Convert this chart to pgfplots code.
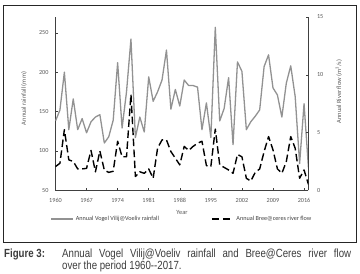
\documentclass[border=0pt]{standalone}
\usepackage{pgfplots}
\pgfplotsset{compat=1.18}
\usepackage{pgfplotstable}
\usepackage{fontspec}
\setmainfont{Carlito}
\newfontfamily\capfont[FakeStretch=0.82]{Liberation Sans}
\definecolor{raingray}{RGB}{146,146,146}
\definecolor{ticktext}{RGB}{89,89,89}
\definecolor{capgray}{RGB}{60,60,60}

\pgfplotstableread{
year rain flow
1960 138 2.05
1961 152 2.34
1962 200 5.25
1963 127 2.63
1964 166 2.50
1965 127 1.85
1966 141 1.85
1967 123 1.90
1968 137 3.45
1969 143 1.60
1970 146 3.40
1971 110 1.75
1972 118 1.55
1973 139 1.65
1974 212 4.25
1975 129 2.90
1976 175 2.90
1977 242 8.30
1978 117 1.20
1979 143 1.60
1980 124 1.47
1981 194 1.85
1982 163 1.04
1983 175 3.65
1984 190 4.36
1985 228 4.36
1986 153 3.35
1987 178 2.78
1988 157 2.20
1989 190 3.80
1990 183 3.45
1991 183 3.80
1992 181 4.07
1993 127 4.25
1994 161 2.14
1995 117 2.05
1996 257 5.30
1997 138 2.20
1998 154 1.98
1999 193 1.76
2000 108 1.47
2001 213 3.10
2002 201 2.90
2003 127 1.04
2004 137 0.80
2005 144 1.55
2006 152 1.85
2007 207 3.35
2008 222 4.65
2009 180 3.50
2010 171 1.85
2011 143 1.47
2012 186 2.48
2013 208 4.65
2014 169 3.64
2015 84 1.04
2016 160 1.76
2017 78 0.50
}\datatable

\begin{document}
\begin{tikzpicture}[x=1pt,y=1pt]
\useasboundingbox (0,0) rectangle (360,274);
\draw[line width=0.9pt, black!85] (3,32) rectangle (356,269);

\begin{axis}[
  at={(55.5pt,83.7pt)}, anchor=south west,
  scale only axis, width=253pt, height=173.3pt,
  xmin=1960, xmax=2017, ymin=50, ymax=270,
  axis x line*=bottom, axis y line*=left,
  tick align=inside, major tick length=2.5pt,
  xtick={1960,1967,1974,1981,1988,1995,2002,2009,2016},
  ytick={50,100,150,200,250},
  every axis plot/.append style={line join=round},
  axis line style={black!75, line width=0.6pt},
  tick style={black!75, line width=0.5pt},
  ticklabel style={font=\fontsize{6.2}{7}\selectfont, text=ticktext},
  /pgf/number format/assume math mode=true,
  /pgf/number format/1000 sep={},
  xticklabel style={yshift=-4.5pt},
  yticklabel style={xshift=-3.5pt},
  xlabel={Year},
  ylabel={Annual rainfall (mm)},
  label style={font=\fontsize{6.4}{7}\selectfont, text=ticktext},
  xlabel style={at={(axis description cs:0.5,-0.129)}, anchor=center},
  ylabel style={at={(axis description cs:-0.125,0.53)}, anchor=center},
]
\addplot[raingray, line width=1.3pt] table[x=year, y=rain] {\datatable};
\end{axis}

\begin{axis}[
  at={(55.5pt,83.7pt)}, anchor=south west,
  scale only axis, width=253pt, height=173.3pt,
  xmin=1960, xmax=2017, ymin=0, ymax=15,
  axis x line=none, axis y line*=right,
  tick align=inside, major tick length=2.5pt,
  ytick={0,5,10,15},
  axis line style={black!75, line width=0.6pt},
  tick style={black!75, line width=0.5pt},
  ticklabel style={font=\fontsize{6.2}{7}\selectfont, text=ticktext},
  /pgf/number format/assume math mode=true,
  yticklabel style={xshift=5pt},
  ylabel={Annual River flow (m\textsuperscript{3}/s)},
  label style={font=\fontsize{6.4}{7}\selectfont, text=ticktext},
  ylabel style={at={(axis description cs:1.12,0.57)}, anchor=center},
  legend columns=2,
  legend image code/.code={\draw[#1] (0pt,0pt) -- (22pt,0pt);},
  legend style={at={(axis description cs:0.5,-0.166)}, anchor=center,
    draw=none, fill=none, font=\fontsize{6.2}{7}\selectfont, text=black!75,
    /tikz/column 2/.style={column sep=50pt}},
]
\addlegendimage{raingray, line width=1.3pt}
\addlegendentry{Annual Vogel Vilij@Voeliv rainfall}
\addplot[black, line width=1.4pt, dash pattern=on 7.5pt off 3.5pt, line join=round] table[x=year, y=flow] {\datatable};
\addlegendentry{Annual Bree@ceres river flow}
\end{axis}

\node[anchor=west, inner sep=0pt, text=capgray] at (4,20)
  {\capfont\fontsize{11.8}{13}\selectfont\bfseries Figure 3:};
\node[anchor=west, inner sep=0pt, text=capgray] at (62,20)
  {\capfont\fontsize{11.8}{13}\selectfont\makebox[289pt][s]{Annual Vogel Vilij@Voeliv rainfall and Bree@Ceres river flow}};
\node[anchor=west, inner sep=0pt, text=capgray] at (62,7.3)
  {\capfont\fontsize{11.8}{13}\selectfont over the period 1960--2017.};
\end{tikzpicture}
\end{document}
